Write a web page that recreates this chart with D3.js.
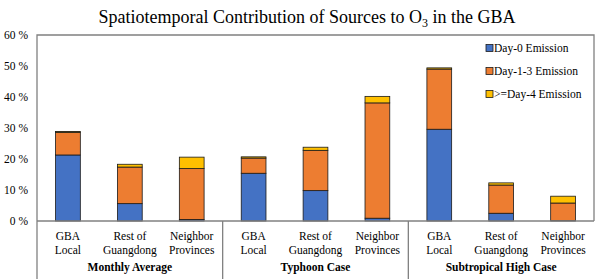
<!DOCTYPE html>
<html><head><meta charset="utf-8">
<script src="https://cdn.jsdelivr.net/npm/d3@7"></script>
</head><body style="margin:0;background:#fff"><svg id="c" width="600" height="279" style="display:block"></svg>
<script>
const groups = ["Monthly Average", "Typhoon Case", "Subtropical High Case"];
const regions = [["GBA", "Local"], ["Rest of", "Guangdong"], ["Neighbor", "Provinces"]];
const seriesNames = ["Day-0 Emission", "Day-1-3 Emission", ">=Day-4 Emission"];
const colors = ["#4472C4", "#ED7D31", "#FFC000"];
const day0 = [21.3, 5.6, 0.5, 15.4, 9.8, 0.9, 29.6, 2.5, 0.1];
const day13 = [7.3, 11.8, 16.4, 4.9, 13.0, 37.2, 19.4, 9.1, 5.7];
const day4 = [0.3, 0.9, 3.7, 0.4, 1.0, 2.1, 0.4, 0.7, 2.2];
const yTicks = [0, 10, 20, 30, 40, 50, 60];

const FF = "Liberation Serif";
const svg = d3.select("#c");
const L = 37, R = 594, T = 35, B = 221;
const ids = d3.range(9);
const x = d3.scaleBand().domain(ids).range([L, R]).paddingInner(0.6).paddingOuter(0.3);
const y = d3.scaleLinear().domain([0, 60]).range([B, T]);

const rows = ids.map(i => ({i, d0: day0[i], d13: day13[i], d4: day4[i]}));
const stack = d3.stack().keys(["d0", "d13", "d4"])(rows);

function txt(px, py, size) {
  return svg.append("text").attr("x", px).attr("y", py).attr("font-size", size)
    .attr("font-family", FF).style("font-family", FF).attr("fill", "#000");
}

const title = txt(307, 23, 18).attr("text-anchor", "middle");
title.append("tspan").text("Spatiotemporal Contribution of Sources to O");
title.append("tspan").attr("font-size", 12).attr("dy", 4).text("3");
title.append("tspan").attr("dy", -4).text(" in the GBA");

// frame
svg.append("path").attr("d", `M${L},${B}V${T}H${R}V${B}`).attr("fill", "none").attr("stroke", "#808080").attr("stroke-width", 1.3);

// y axis labels
const ya = svg.append("g").attr("transform", `translate(${L},0)`)
  .call(d3.axisLeft(y).tickValues(yTicks).tickSize(0).tickPadding(9).tickFormat(d => d + " %"));
ya.attr("font-family", FF).attr("font-size", 11.5);
ya.select(".domain").remove();
ya.selectAll("text").attr("font-family", FF).style("font-family", FF).attr("fill", "#000");

// bars
stack.forEach((s, k) => {
  svg.append("g").selectAll("rect").data(s).join("rect")
    .attr("x", d => x(d.data.i)).attr("width", x.bandwidth())
    .attr("y", d => y(d[1])).attr("height", d => Math.max(0, y(d[0]) - y(d[1])))
    .attr("fill", colors[k]).attr("stroke", "#1a1a1a").attr("stroke-width", 0.8);
});

// x axis line
svg.append("line").attr("x1", L).attr("x2", R).attr("y1", B).attr("y2", B).attr("stroke", "#808080").attr("stroke-width", 1.3);

// category labels
ids.forEach(i => {
  const cx = x(i) + x.bandwidth() / 2;
  const t = txt(cx, 240, 11.5).attr("text-anchor", "middle");
  t.append("tspan").attr("x", cx).text(regions[i % 3][0]);
  t.append("tspan").attr("x", cx).attr("dy", 13.5).text(regions[i % 3][1]);
});

// group dividers and labels
const gw = (R - L) / 3;
groups.forEach((g, j) => {
  const gx = L + j * gw;
  svg.append("line").attr("x1", gx).attr("x2", gx).attr("y1", B).attr("y2", 279).attr("stroke", "#808080").attr("stroke-width", 1.3);
  txt(gx + gw / 2, 271, 11.5).attr("text-anchor", "middle").attr("font-weight", "bold").text(g);
});

// legend
seriesNames.forEach((n, k) => {
  const ly = 48 + k * 23;
  svg.append("rect").attr("x", 486).attr("y", ly - 3.5).attr("width", 7).attr("height", 7)
    .attr("fill", colors[k]).attr("stroke", "#1a1a1a").attr("stroke-width", 0.8);
  txt(494, ly + 4, 11.5).text(n);
});
</script></body></html>
